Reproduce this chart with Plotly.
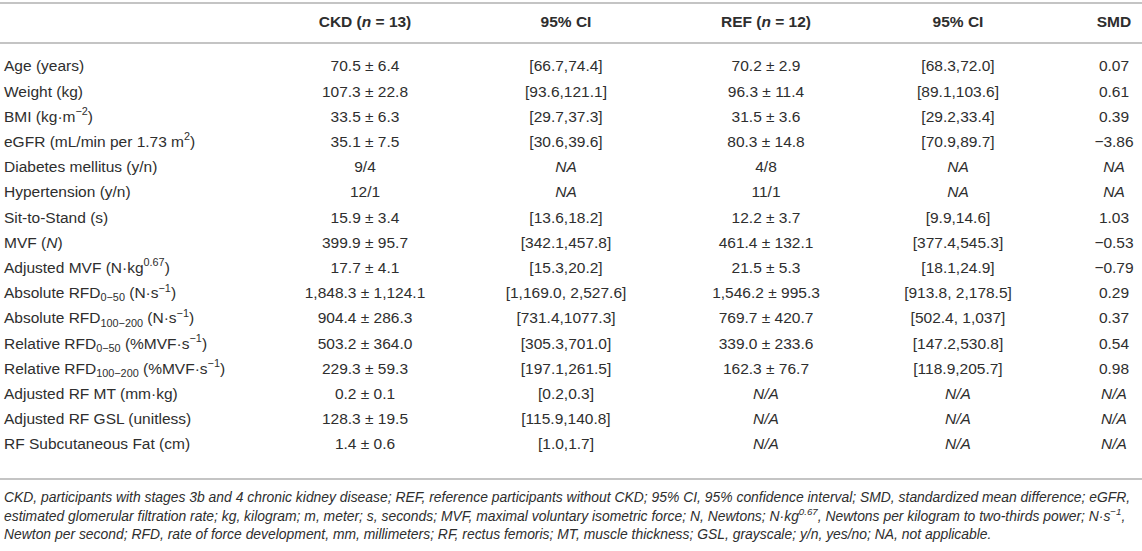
import plotly.graph_objects as go

# ---------------- data ----------------
headers = ["", "<b>CKD (<i>n</i> = 13)</b>", "<b>95% CI</b>", "<b>REF (<i>n</i> = 12)</b>", "<b>95% CI</b>", "<b>SMD</b>"]

variables = [
    "Age (years)",
    "Weight (kg)",
    "BMI (kg·m<sup>−2</sup>)",
    "eGFR (mL/min per 1.73 m<sup>2</sup>)",
    "Diabetes mellitus (y/n)",
    "Hypertension (y/n)",
    "Sit-to-Stand (s)",
    "MVF (<i>N</i>)",
    "Adjusted MVF (N·kg<sup>0.67</sup>)",
    "Absolute RFD<sub>0−50</sub> (N·s<sup>−1</sup>)",
    "Absolute RFD<sub>100−200</sub> (N·s<sup>−1</sup>)",
    "Relative RFD<sub>0−50</sub> (%MVF·s<sup>−1</sup>)",
    "Relative RFD<sub>100−200</sub> (%MVF·s<sup>−1</sup>)",
    "Adjusted RF MT (mm·kg)",
    "Adjusted RF GSL (unitless)",
    "RF Subcutaneous Fat (cm)",
]

ckd = ["70.5 ± 6.4", "107.3 ± 22.8", "33.5 ± 6.3", "35.1 ± 7.5", "9/4", "12/1",
       "15.9 ± 3.4", "399.9 ± 95.7", "17.7 ± 4.1", "1,848.3 ± 1,124.1", "904.4 ± 286.3",
       "503.2 ± 364.0", "229.3 ± 59.3", "0.2 ± 0.1", "128.3 ± 19.5", "1.4 ± 0.6"]

ckd_ci = ["[66.7,74.4]", "[93.6,121.1]", "[29.7,37.3]", "[30.6,39.6]", "<i>NA</i>", "<i>NA</i>",
          "[13.6,18.2]", "[342.1,457.8]", "[15.3,20.2]", "[1,169.0, 2,527.6]", "[731.4,1077.3]",
          "[305.3,701.0]", "[197.1,261.5]", "[0.2,0.3]", "[115.9,140.8]", "[1.0,1.7]"]

ref = ["70.2 ± 2.9", "96.3 ± 11.4", "31.5 ± 3.6", "80.3 ± 14.8", "4/8", "11/1",
       "12.2 ± 3.7", "461.4 ± 132.1", "21.5 ± 5.3", "1,546.2 ± 995.3", "769.7 ± 420.7",
       "339.0 ± 233.6", "162.3 ± 76.7", "<i>N/A</i>", "<i>N/A</i>", "<i>N/A</i>"]

ref_ci = ["[68.3,72.0]", "[89.1,103.6]", "[29.2,33.4]", "[70.9,89.7]", "<i>NA</i>", "<i>NA</i>",
          "[9.9,14.6]", "[377.4,545.3]", "[18.1,24.9]", "[913.8, 2,178.5]", "[502.4, 1,037]",
          "[147.2,530.8]", "[118.9,205.7]", "<i>N/A</i>", "<i>N/A</i>", "<i>N/A</i>"]

smd = ["0.07", "0.61", "0.39", "−3.86", "<i>NA</i>", "<i>NA</i>",
       "1.03", "−0.53", "−0.79", "0.29", "0.37", "0.54", "0.98",
       "<i>N/A</i>", "<i>N/A</i>", "<i>N/A</i>"]

footnote_lines = [
    "CKD, participants with stages 3b and 4 chronic kidney disease; REF, reference participants without CKD; 95% CI, 95% confidence interval; SMD, standardized mean difference; eGFR,",
    "estimated glomerular filtration rate; kg, kilogram; m, meter; s, seconds; MVF, maximal voluntary isometric force; N, Newtons; N·kg<sup>0.67</sup>, Newtons per kilogram to two-thirds power; N·s<sup>−1</sup>,",
    "Newton per second; RFD, rate of force development, mm, millimeters; RF, rectus femoris; MT, muscle thickness; GSL, grayscale; y/n, yes/no; NA, not applicable.",
]

# ---------------- layout constants ----------------
W, H = 1142, 551
FONT = "Liberation Sans, Arial, Helvetica, sans-serif"
TXT = "#2e2e2e"
RULE = "#c4c4c4"
FS, FS_FOOT = 15.5, 13.9
COL_X = [4, 365, 566, 766, 958, 1114]
HEADER_Y = 23
ROW0, ROW_H = 67.5, 25.2
TOP_RULE, HEAD_RULE, BOT_RULE = 3, 43, 479
FOOT0, FOOT_H = 499, 18.5

columns = [variables, ckd, ckd_ci, ref, ref_ci, smd]
row_y = [ROW0 + i * ROW_H for i in range(len(variables))]

fig = go.Figure()

# header
fig.add_trace(go.Scatter(
    x=COL_X[1:], y=[HEADER_Y] * 5, text=headers[1:], mode="text",
    textposition="middle center", textfont=dict(family=FONT, size=FS, color=TXT),
    hoverinfo="skip", showlegend=False))

# body columns
for j, col in enumerate(columns):
    fig.add_trace(go.Scatter(
        x=[COL_X[j]] * len(col), y=row_y, text=col, mode="text",
        textposition="middle right" if j == 0 else "middle center",
        textfont=dict(family=FONT, size=FS, color=TXT),
        hoverinfo="skip", showlegend=False))

# footnote
fig.add_trace(go.Scatter(
    x=[4] * len(footnote_lines), y=[FOOT0 + k * FOOT_H for k in range(len(footnote_lines))],
    text=["<i>" + s + "</i>" for s in footnote_lines], mode="text",
    textposition="middle right", textfont=dict(family=FONT, size=FS_FOOT, color=TXT),
    hoverinfo="skip", showlegend=False))

for yy in (TOP_RULE, HEAD_RULE, BOT_RULE):
    fig.add_shape(type="line", xref="x", yref="y", x0=0, x1=W, y0=yy, y1=yy,
                  line=dict(color=RULE, width=2))

fig.update_layout(
    width=W, height=H, margin=dict(l=0, r=0, t=0, b=0),
    paper_bgcolor="white", plot_bgcolor="white",
    xaxis=dict(range=[0, W], visible=False, fixedrange=True),
    yaxis=dict(range=[H, 0], visible=False, fixedrange=True),
)

fig.write_html(
    "out.html",
    config={"displayModeBar": False},
    post_script="document.body.style.margin='0';document.body.style.overflow='hidden';",
)
